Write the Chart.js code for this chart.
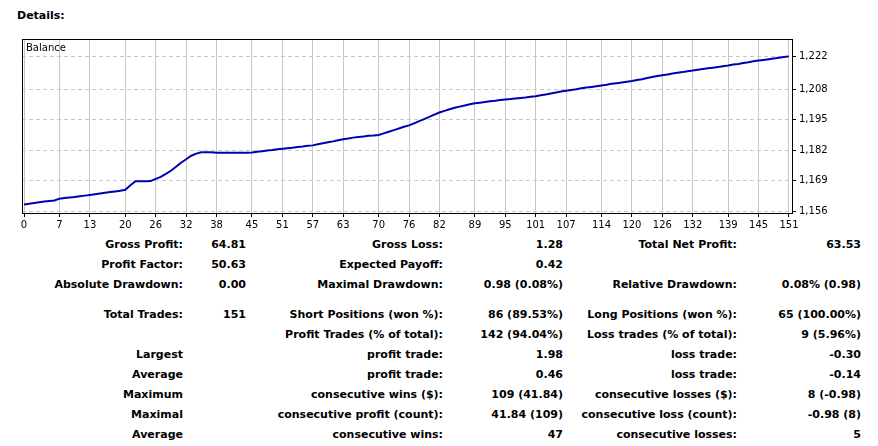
<!DOCTYPE html>
<html>
<head>
<meta charset="utf-8">
<script src="https://cdn.jsdelivr.net/npm/chart.js@4"></script>
<style>
    body { margin: 0; background: #fff; font-family: Tahoma, "DejaVu Sans", sans-serif; }
    #wrap { position: relative; width: 878px; height: 446px; }
    #titulo { position: absolute; left: 17px; top: 9px; font: bold 11px "DejaVu Sans", sans-serif; color: #000; }
    #grafico { position: absolute; left: 0; top: 30px; }
    .cel { position: absolute; font: bold 11px "DejaVu Sans", sans-serif; color: #000; white-space: nowrap; text-align: right; transform: translateX(-100%); }
</style>
</head>
<body>
<div id="wrap">
    <div id="titulo">Details:</div>
    <canvas id="grafico" width="878" height="200"></canvas>
    <div id="tabela"></div>
</div>
<script>
var trades = [];
for (var i = 0; i < 152; i++) { trades.push(i); }

var saldo = [
    1158.9, 1159.2, 1159.6, 1159.9, 1160.2, 1160.4, 1160.6, 1161.4,
    1161.7, 1161.9, 1162.1, 1162.4, 1162.7, 1163.0,
    1163.3, 1163.6, 1163.9, 1164.2, 1164.5, 1164.8,
    1165.2, 1167.1, 1168.8,
    1168.8, 1168.8, 1168.9,
    1169.8, 1170.7, 1172.0, 1173.3, 1175.0, 1176.7, 1178.2,
    1179.7, 1180.6, 1181.2, 1181.2, 1181.2, 1181.0,
    1181.0, 1181.0, 1181.0, 1181.0, 1181.0, 1181.0, 1181.1,
    1181.4, 1181.6, 1181.9, 1182.1, 1182.4, 1182.7,
    1182.9, 1183.1, 1183.4, 1183.6, 1183.9, 1184.1,
    1184.6, 1185.0, 1185.4, 1185.8, 1186.3, 1186.7,
    1187.0, 1187.4, 1187.7, 1187.9, 1188.2, 1188.3, 1188.5,
    1189.2, 1189.9, 1190.6, 1191.3, 1192.0, 1192.6,
    1193.5, 1194.4, 1195.3, 1196.2, 1197.2, 1198.1,
    1198.8, 1199.5, 1200.1, 1200.6, 1201.1, 1201.6, 1202.0,
    1202.3, 1202.6, 1202.9, 1203.1, 1203.4, 1203.6,
    1203.8, 1204.1, 1204.3, 1204.5, 1204.8, 1205.0,
    1205.4, 1205.8, 1206.2, 1206.6, 1207.0, 1207.4,
    1207.7, 1208.0, 1208.4, 1208.7, 1209.0, 1209.3, 1209.6,
    1209.9, 1210.3, 1210.6, 1210.9, 1211.2, 1211.5,
    1211.9, 1212.3, 1212.8, 1213.2, 1213.6, 1214.0,
    1214.3, 1214.7, 1215.0, 1215.3, 1215.7, 1216.0,
    1216.3, 1216.6, 1216.9, 1217.2, 1217.5, 1217.8, 1218.1,
    1218.5, 1218.8, 1219.2, 1219.5, 1219.9, 1220.2,
    1220.5, 1220.8, 1221.1, 1221.4, 1221.7, 1222.0
];

var ticksX = [0, 7, 13, 20, 26, 32, 38, 45, 51, 57, 63, 70, 76, 82, 89, 95, 101, 107, 114, 120, 126, 132, 139, 145, 151];
var ticksY = [1156, 1169, 1182, 1195, 1208, 1222];

// linhas da tabela: [rotulo1, valor1, rotulo2, valor2, rotulo3, valor3, y]
var linhas = [
    ['Gross Profit:', '64.81', 'Gross Loss:', '1.28', 'Total Net Profit:', '63.53', 238],
    ['Profit Factor:', '50.63', 'Expected Payoff:', '0.42', '', '', 258],
    ['Absolute Drawdown:', '0.00', 'Maximal Drawdown:', '0.98 (0.08%)', 'Relative Drawdown:', '0.08% (0.98)', 278],
    ['Total Trades:', '151', 'Short Positions (won %):', '86 (89.53%)', 'Long Positions (won %):', '65 (100.00%)', 308],
    ['', '', 'Profit Trades (% of total):', '142 (94.04%)', 'Loss trades (% of total):', '9 (5.96%)', 328],
    ['Largest', '', 'profit trade:', '1.98', 'loss trade:', '-0.30', 348],
    ['Average', '', 'profit trade:', '0.46', 'loss trade:', '-0.14', 368],
    ['Maximum', '', 'consecutive wins ($):', '109 (41.84)', 'consecutive losses ($):', '8 (-0.98)', 388],
    ['Maximal', '', 'consecutive profit (count):', '41.84 (109)', 'consecutive loss (count):', '-0.98 (8)', 408],
    ['Average', '', 'consecutive wins:', '47', 'consecutive losses:', '5', 428]
];
var direitas = [183, 246, 443, 563, 737, 861];

function montarTabela() {
    var tabela = document.getElementById('tabela');
    linhas.forEach(function (linha) {
        for (var c = 0; c < 6; c++) {
            if (linha[c] === '') { continue; }
            var d = document.createElement('div');
            d.className = 'cel';
            var dir = direitas[c];
            if (c === 0 && linha[1] === '' && linha[0].indexOf(':') === -1) { dir = 183; }
            d.style.left = dir + 'px';
            d.style.top = linha[6] + 'px';
            d.textContent = linha[c];
            tabela.appendChild(d);
        }
    });
}

var moldura = {
    id: 'moldura',
    afterDraw: function (chart) {
        var a = chart.chartArea;
        var ctx = chart.ctx;
        ctx.save();
        ctx.strokeStyle = '#000';
        ctx.lineWidth = 1;
        ctx.strokeRect(a.left + 0.5, a.top + 0.5, a.right - a.left, a.bottom - a.top);
        ctx.fillStyle = '#000';
        ctx.font = '10px "DejaVu Sans", sans-serif';
        ctx.textBaseline = 'top';
        ctx.fillText('Balance', a.left + 4, a.top + 4);
        ctx.restore();
    }
};

var grade = { color: '#c8c8c8', lineWidth: 1, tickLength: 4, tickColor: '#000' };

new Chart(document.getElementById('grafico').getContext('2d'), {
    type: 'line',
    data: {
        labels: trades,
        datasets: [{
            data: saldo.map(function (v, i) { return { x: trades[i], y: v }; }),
            borderColor: '#0000b0',
            borderWidth: 2,
            pointRadius: 0,
            tension: 0,
            fill: false
        }]
    },
    options: {
        responsive: false,
        animation: false,
        layout: { padding: { left: 22, top: 4, right: 48, bottom: 0 } },
        plugins: { legend: { display: false }, tooltip: { enabled: false } },
        scales: {
            x: {
                type: 'linear',
                min: -0.4,
                max: 151.6,
                afterBuildTicks: function (axis) {
                    axis.ticks = ticksX.map(function (v) { return { value: v }; });
                },
                afterFit: function (axis) { axis.height = 17; },
                border: { display: false },
                grid: Object.assign({ borderDash: [4, 3] }, grade),
                ticks: { color: '#000', font: { size: 10, family: 'DejaVu Sans' }, padding: 2, maxRotation: 0, autoSkip: false }
            },
            y: {
                position: 'right',
                min: 1155.3,
                max: 1229.4,
                afterBuildTicks: function (axis) {
                    axis.ticks = ticksY.map(function (v) { return { value: v }; });
                },
                afterFit: function (axis) { axis.width = 38; },
                border: { display: false, dash: [4, 3] },
                grid: grade,
                ticks: { color: '#000', font: { size: 10, family: 'DejaVu Sans' }, padding: 3 }
            }
        }
    },
    plugins: [moldura]
});

// tracejado da grade
Chart.defaults.borderColor = '#c8c8c8';
montarTabela();
</script>
</body>
</html>
